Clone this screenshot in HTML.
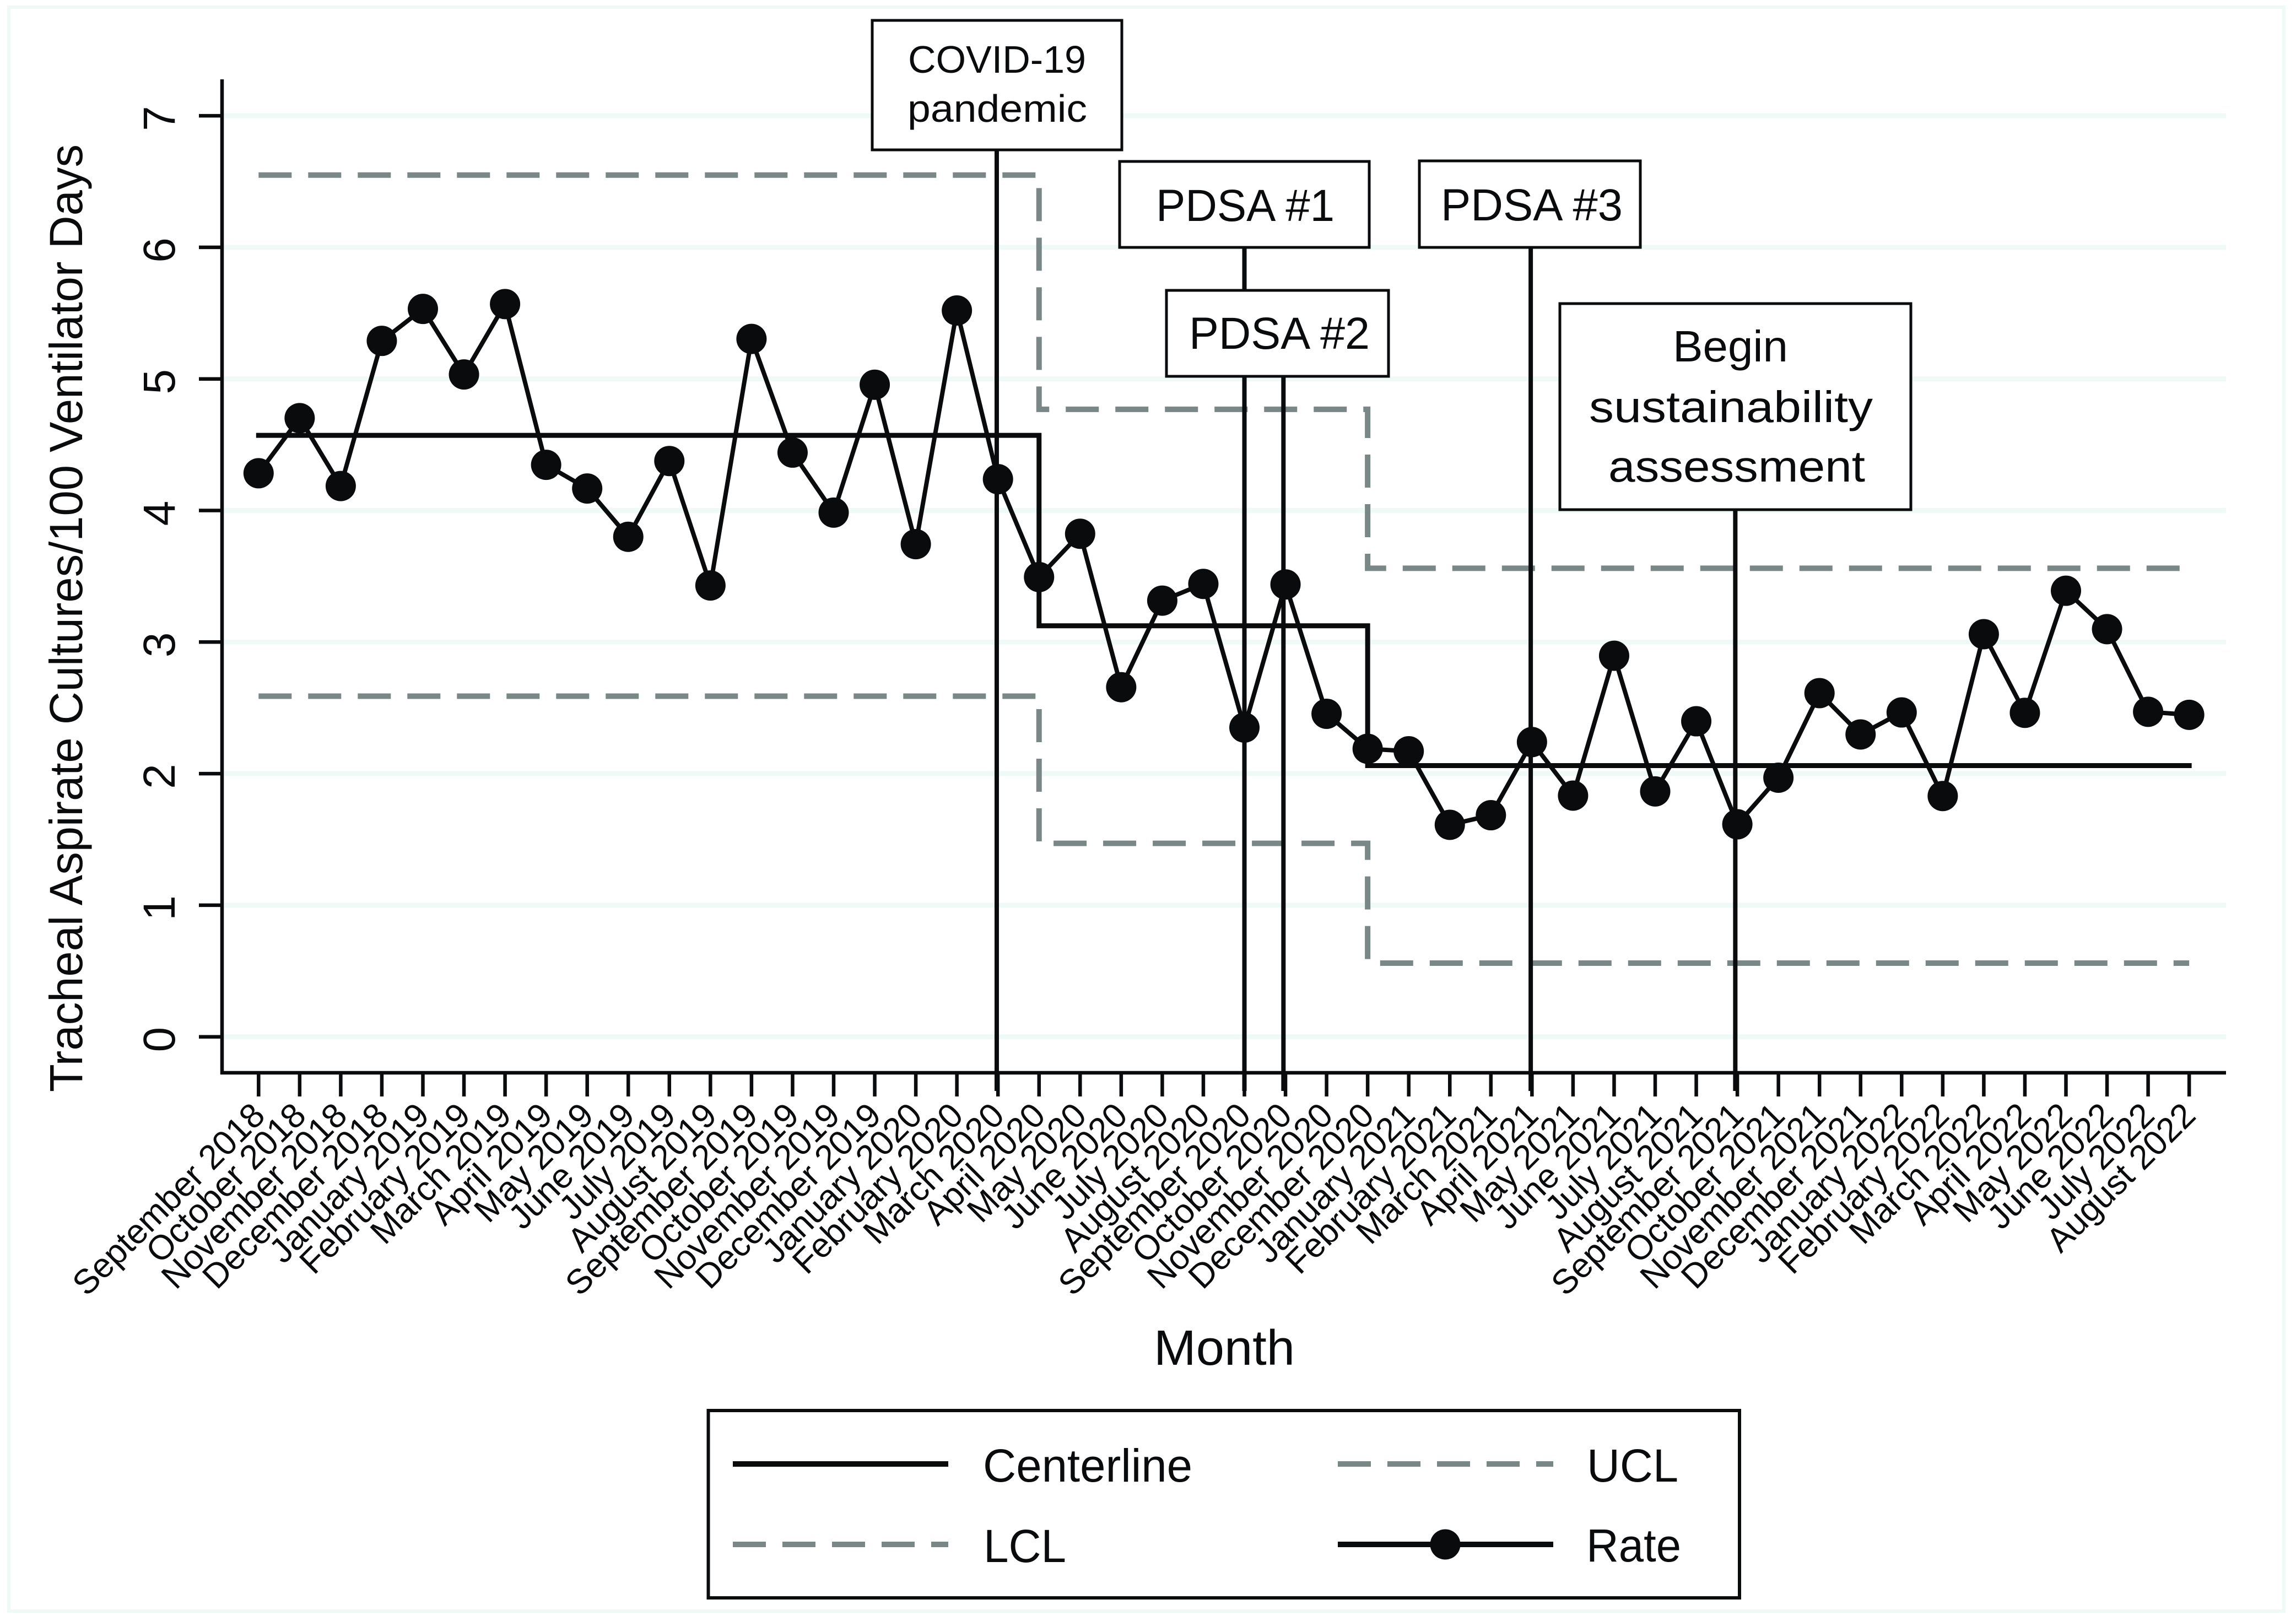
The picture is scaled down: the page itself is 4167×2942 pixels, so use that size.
<!DOCTYPE html>
<html lang="en">
<head>
<meta charset="utf-8">
<title>Tracheal Aspirate Cultures Control Chart</title>
<style>
html,body{margin:0;padding:0;background:#fff;}
svg{display:block;}
text{font-family:"Liberation Sans",Arial,sans-serif;fill:#0a0b0d;}
</style>
</head>
<body>
<svg id="chart" xmlns="http://www.w3.org/2000/svg" width="4167" height="2942" viewBox="0 0 4167 2942">
  <rect x="0" y="0" width="4167" height="2942" fill="#ffffff"/>
  <rect x="16" y="13" width="4129" height="2911" fill="none" stroke="#eff9f5" stroke-width="6"/>
  <g id="grid"></g>
  <g id="limits"></g>
  <g id="center"></g>
  <g id="vlines"></g>
  <g id="axes"></g>
  <g id="rate"></g>

  <text transform="rotate(-90 149 1982)" x="149" y="1982" font-size="84" textLength="1720" lengthAdjust="spacingAndGlyphs">Tracheal Aspirate Cultures/100 Ventilator Days</text>
  <text x="2094" y="2477" font-size="90" textLength="256" lengthAdjust="spacingAndGlyphs">Month</text>

  <g>
    <rect x="1583" y="37" width="453" height="235" fill="#fff" stroke="#0a0b0d" stroke-width="5"/>
    <text x="1648" y="132" font-size="70" textLength="323" lengthAdjust="spacingAndGlyphs">COVID-19</text>
    <text x="1647" y="221" font-size="70" textLength="326" lengthAdjust="spacingAndGlyphs">pandemic</text>
  </g>
  <g>
    <rect x="2032" y="293" width="453" height="156" fill="#fff" stroke="#0a0b0d" stroke-width="5"/>
    <text x="2098" y="401" font-size="82" textLength="324" lengthAdjust="spacingAndGlyphs">PDSA #1</text>
  </g>
  <g>
    <rect x="2576" y="292" width="401" height="157" fill="#fff" stroke="#0a0b0d" stroke-width="5"/>
    <text x="2615" y="400" font-size="82" textLength="330" lengthAdjust="spacingAndGlyphs">PDSA #3</text>
  </g>
  <g>
    <rect x="2117" y="527" width="403" height="156" fill="#fff" stroke="#0a0b0d" stroke-width="5"/>
    <text x="2158" y="633" font-size="82" textLength="328" lengthAdjust="spacingAndGlyphs">PDSA #2</text>
  </g>
  <g>
    <rect x="2831" y="551" width="637" height="374" fill="#fff" stroke="#0a0b0d" stroke-width="5"/>
    <text x="3036" y="656" font-size="80" textLength="209" lengthAdjust="spacingAndGlyphs">Begin</text>
    <text x="2884" y="766" font-size="80" textLength="515" lengthAdjust="spacingAndGlyphs">sustainability</text>
    <text x="2919" y="874" font-size="80" textLength="466" lengthAdjust="spacingAndGlyphs">assessment</text>
  </g>

  <g>
    <rect x="1285.5" y="2560" width="1871.5" height="340" fill="#fff" stroke="#0a0b0d" stroke-width="6"/>
    <g>
      <line x1="1330" y1="2657" x2="1721" y2="2657" stroke="#0a0b0d" stroke-width="10"/>
      <text x="1784" y="2689" font-size="84" textLength="380" lengthAdjust="spacingAndGlyphs">Centerline</text>
    </g>
    <g>
      <line x1="2428" y1="2657" x2="2819" y2="2657" stroke="#7a8787" stroke-width="10" stroke-dasharray="60 30"/>
      <text x="2880" y="2689" font-size="84" textLength="166" lengthAdjust="spacingAndGlyphs">UCL</text>
    </g>
    <g>
      <line x1="1330" y1="2803" x2="1721" y2="2803" stroke="#7a8787" stroke-width="10" stroke-dasharray="60 30"/>
      <text x="1785" y="2835" font-size="84" textLength="150" lengthAdjust="spacingAndGlyphs">LCL</text>
    </g>
    <g>
      <line x1="2428" y1="2803" x2="2819" y2="2803" stroke="#0a0b0d" stroke-width="10"/>
      <circle cx="2623" cy="2803" r="27.5" fill="#0a0b0d"/>
      <text x="2879" y="2834" font-size="84" textLength="172" lengthAdjust="spacingAndGlyphs">Rate</text>
    </g>
  </g>
</svg>
<script>
const categories = ["September 2018","October 2018","November 2018","December 2018","January 2019","February 2019","March 2019","April 2019","May 2019","June 2019","July 2019","August 2019","September 2019","October 2019","November 2019","December 2019","January 2020","February 2020","March 2020","April 2020","May 2020","June 2020","July 2020","August 2020","September 2020","October 2020","November 2020","December 2020","January 2021","February 2021","March 2021","April 2021","May 2021","June 2021","July 2021","August 2021","September 2021","October 2021","November 2021","December 2021","January 2022","February 2022","March 2022","April 2022","May 2022","June 2022","July 2022","August 2022"];
const rateValues = [4.283,4.702,4.186,5.289,5.532,5.034,5.569,4.347,4.167,3.80,4.376,3.43,5.304,4.44,3.984,4.956,3.744,5.52,4.238,3.494,3.823,2.657,3.315,3.442,2.35,3.438,2.455,2.189,2.17,1.611,1.684,2.24,1.833,2.896,1.865,2.398,1.615,1.969,2.612,2.298,2.465,1.83,3.06,2.462,3.39,3.098,2.47,2.447];
const phaseBreaks = [0,19,27,47];
const centerlineLevels = [4.571,3.124,2.061];
const uclLevels = [6.549,4.769,3.561];
const lclLevels = [2.589,1.47,0.56];
const yTickValues = [0,1,2,3,4,5,6,7];
const annotationNames = ["covid-19","pdsa-1","pdsa-2","pdsa-3","sustainability"];
const annotationMonths = [17.97,24,24.95,30.97,35.95];
const annotationValues = [6.9,6.0,5.05,6.0,4.05];

const INK = "#0a0b0d";
const GREY = "#7a8787";
const NS = "http://www.w3.org/2000/svg";
function xScale(i){ return 469.3 + i * 74.55; }
function yScale(v){ return 1881.7 - v * 238.8; }
function make(parent, tag, attrs){
  const el = document.createElementNS(NS, tag);
  for (const k in attrs) el.setAttribute(k, attrs[k]);
  parent.appendChild(el);
  return el;
}
function stepPath(levels){
  let d = "";
  levels.forEach(function(level, p){
    d += (p === 0 ? "M" : "L") + xScale(phaseBreaks[p]) + " " + yScale(level);
    d += "L" + xScale(phaseBreaks[p + 1]) + " " + yScale(level);
  });
  return d;
}

const gridG = document.getElementById("grid");
const axesG = document.getElementById("axes");
yTickValues.forEach(function(v){
  const g = make(gridG, "line", {x1:407, x2:4040, y1:yScale(v), y2:yScale(v), stroke:"#eff9f5", "stroke-width":9});
  
  
  const t = make(axesG, "line", {x1:361, x2:403, y1:yScale(v), y2:yScale(v), stroke:INK, "stroke-width":6.5});
  
  
  const label = make(axesG, "text", {x:317, y:yScale(v) + 5, "font-size":82, "text-anchor":"middle", transform:"rotate(-90 317 " + (yScale(v) + 5) + ")"});
  label.textContent = String(v);
  
  
});

const yAxis = make(axesG, "line", {x1:403, x2:403, y1:144, y2:1950, stroke:INK, "stroke-width":6.5});


const xAxis = make(axesG, "line", {x1:400, x2:4040, y1:1947, y2:1947, stroke:INK, "stroke-width":6.5});



categories.forEach(function(name, i){
  const x = xScale(i);
  const t = make(axesG, "line", {x1:x, x2:x, y1:1947, y2:1990, stroke:INK, "stroke-width":6.5});
  
  
  const lx = x + 15, ly = 2028;
  const label = make(axesG, "text", {x:lx, y:ly, "font-size":62.5, "text-anchor":"end", transform:"rotate(-45 " + lx + " " + ly + ")"});
  label.textContent = name;
  
  
});

const limitsG = document.getElementById("limits");
const uclPath = make(limitsG, "path", {d:stepPath(uclLevels), fill:"none", stroke:GREY, "stroke-width":10, "stroke-dasharray":"60 30"});


const lclPath = make(limitsG, "path", {d:stepPath(lclLevels), fill:"none", stroke:GREY, "stroke-width":10, "stroke-dasharray":"60 30"});



const centerPath = make(document.getElementById("center"), "path", {d:stepPath(centerlineLevels), fill:"none", stroke:INK, "stroke-width":9, "stroke-linecap":"square"});



const vlinesG = document.getElementById("vlines");
annotationMonths.forEach(function(m, i){
  const x = xScale(m);
  const line = make(vlinesG, "line", {x1:x, x2:x, y1:yScale(annotationValues[i]), y2:1980, stroke:INK, "stroke-width":8});
  
  
});

const rateG = document.getElementById("rate");
const ratePts = rateValues.map(function(v, i){ return xScale(i) + "," + yScale(v); }).join(" ");
const rateLine = make(rateG, "polyline", {points:ratePts, fill:"none", stroke:INK, "stroke-width":8, "stroke-linejoin":"round"});


rateValues.forEach(function(v, i){
  const c = make(rateG, "circle", {cx:xScale(i), cy:yScale(v), r:27.5, fill:INK});
  
  
});
</script>
</body>
</html>
